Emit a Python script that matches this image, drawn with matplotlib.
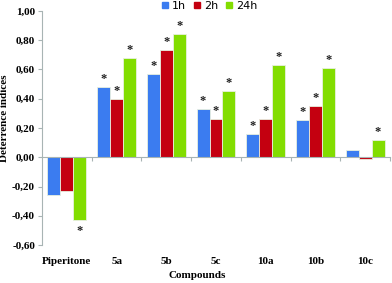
import numpy as np
import matplotlib.pyplot as plt
from matplotlib.lines import Line2D

# === Data ===
compounds = ["Piperitone", "5a", "5b", "5c", "10a", "10b", "10c"]
series_names = ["1h", "2h", "24h"]
vals_1h = [-0.26, 0.48, 0.57, 0.33, 0.16, 0.255, 0.05]
vals_2h = [-0.23, 0.40, 0.73, 0.26, 0.26, 0.35, -0.01]
vals_24h = [-0.43, 0.68, 0.84, 0.45, 0.63, 0.61, 0.12]
# significance marks (1 = star)
sig_1h = [0, 1, 1, 1, 1, 1, 0]
sig_2h = [0, 1, 1, 1, 1, 1, 0]
sig_24h = [1, 1, 1, 1, 1, 1, 1]

colors = ["#3b7cf0", "#c40010", "#82dd00"]
serif = "Liberation Serif"

fig = plt.figure(figsize=(3.92, 2.83), dpi=100)
ax = fig.add_axes([42 / 392, 1 - 245 / 283, 348 / 392, 234 / 283])

x = np.arange(len(compounds))
w = 0.26
all_vals = [vals_1h, vals_2h, vals_24h]
all_sig = [sig_1h, sig_2h, sig_24h]
for i, (vals, sig) in enumerate(zip(all_vals, all_sig)):
    pos = x + (i - 1) * w
    ax.bar(pos, vals, width=w, color=colors[i], edgecolor="#e8f0e0", linewidth=0.6, zorder=2)
    for p, v, s in zip(pos, vals, sig):
        if s:
            if v >= 0:
                ax.text(p, v + 0.015, "*", ha="center", va="bottom", fontsize=9,
                        fontweight="bold", color="#202020", family=serif)
            else:
                ax.text(p, v - 0.035, "*", ha="center", va="top", fontsize=9,
                        fontweight="bold", color="#202020", family=serif)

ax.set_xlim(-0.5, len(compounds) - 0.5)
ax.set_ylim(-0.6, 1.0)
ax.set_yticks(np.arange(-0.6, 1.01, 0.2))
ax.set_yticklabels([f"{t:.2f}".replace(".", ",") for t in np.arange(-0.6, 1.01, 0.2)],
                   family=serif, fontweight="bold", fontsize=8)

for s in ["top", "right"]:
    ax.spines[s].set_visible(False)
ax.spines["left"].set_color("#a8b4b4")
ax.spines["bottom"].set_color("#a8b4b4")
ax.spines["bottom"].set_position(("data", 0))
ax.tick_params(axis="y", colors="#a8b4b4", length=3, width=0.8, labelcolor="black", pad=2)

# boundary ticks on zero line, labels at bottom through minor ticks
ax.set_xticks(np.arange(0.5, len(compounds) - 0.4, 1.0))
ax.set_xticklabels([])
ax.tick_params(axis="x", which="major", direction="out", length=3, width=0.8, colors="#a8b4b4")
ax.set_xticks(x, minor=True)
ax.set_xticklabels(compounds, minor=True, family=serif, fontweight="bold", fontsize=8)
ax.tick_params(axis="x", which="minor", length=0, pad=72, labelcolor="black")

ax.set_ylabel("Deterrence indices", family=serif, fontweight="bold", fontsize=8)
ax.yaxis.set_label_coords(-0.095, 0.54)
fig.text(197 / 392, 1 - 275 / 283, "Compounds", ha="center", va="center",
         family=serif, fontweight="bold", fontsize=8)

handles = [Line2D([], [], marker="s", linestyle="none", color=c, markersize=5) for c in colors]
fig.legend(handles, series_names, loc="center left", bbox_to_anchor=(161 / 392, 1 - 6 / 283),
           ncol=3, frameon=False, fontsize=8, handlelength=0.8, handletextpad=0.2,
           columnspacing=0.6, borderpad=0, borderaxespad=0)

fig.savefig("out.png", dpi=100)
